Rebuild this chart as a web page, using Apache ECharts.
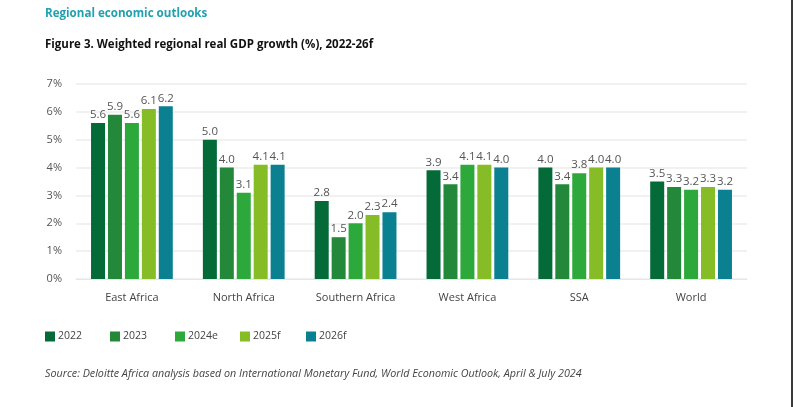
<!DOCTYPE html>
<html>
<head>
<meta charset="utf-8">
<script src="https://cdn.jsdelivr.net/npm/echarts@6/dist/echarts.min.js"></script>
<style>
html,body{margin:0;padding:0;background:#fff;}
#c{width:793px;height:407px;}
</style>
</head>
<body>
<div id="c"></div>
<script>
const categories = ['East Africa', 'North Africa', 'Southern Africa', 'West Africa', 'SSA', 'World'];
const seriesNames = ['2022', '2023', '2024e', '2025f', '2026f'];
const v2022 = [5.6, 5.0, 2.8, 3.9, 4.0, 3.5];
const v2023 = [5.9, 4.0, 1.5, 3.4, 3.4, 3.3];
const v2024e = [5.6, 3.1, 2.0, 4.1, 3.8, 3.2];
const v2025f = [6.1, 4.1, 2.3, 4.1, 4.0, 3.3];
const v2026f = [6.2, 4.1, 2.4, 4.0, 4.0, 3.2];
const yTicks = [0, 1, 2, 3, 4, 5, 6, 7];
const colors = ['#046A38', '#23883A', '#2DA83A', '#86BC25', '#0A8090'];

const allValues = [v2022, v2023, v2024e, v2025f, v2026f];
const font = '"Open Sans", "Noto Sans", sans-serif';
const legendLeft = [45, 110, 175, 240, 306];

const chart = echarts.init(document.getElementById('c'), null, {renderer: 'canvas'});
chart.setOption({
  animation: false,
  color: colors,
  title: [
    {text: 'Regional economic outlooks', left: 45, top: 8, padding: 0,
     textStyle: {fontFamily: font, fontSize: 11.6, fontWeight: 'bold', color: '#22A0B0'}},
    {text: 'Figure 3. Weighted regional real GDP growth (%), 2022-26f', left: 45, top: 39, padding: 0,
     textStyle: {fontFamily: font, fontSize: 11.5, fontWeight: 'bold', color: '#111'}}
  ],
  legend: seriesNames.map((n, i) => ({
    left: legendLeft[i], top: 331, padding: 0, itemWidth: 10, itemHeight: 10,
    icon: 'rect', data: [n],
    textStyle: {fontFamily: font, fontSize: 10.5, color: '#444', padding: [0, 0, 0, -2]}
  })),
  grid: {left: 76, right: 46, top: 84, bottom: 128, containLabel: false},
  xAxis: {
    type: 'category', data: categories,
    axisLine: {show: true, lineStyle: {color: '#e6e6e6', width: 1}},
    axisTick: {show: false},
    axisLabel: {fontFamily: font, fontSize: 11, color: '#444', margin: 13}
  },
  yAxis: {
    type: 'value', min: yTicks[0], max: yTicks[yTicks.length - 1], interval: 1,
    axisLine: {show: false}, axisTick: {show: false},
    splitLine: {lineStyle: {color: '#ececec', width: 1.5}},
    axisLabel: {fontFamily: font, fontSize: 11, color: '#555', margin: 14,
      formatter: v => v + '%'}
  },
  graphic: [{type: 'rect', shape: {x: 791, y: 0, width: 2, height: 407}, style: {fill: '#3a3a3a'}}],
  series: seriesNames.map((n, i) => ({
    name: n, type: 'bar', data: allValues[i],
    barWidth: 14, barGap: '21%', barCategoryGap: '27%',
    label: {show: true, position: 'top', distance: 2, fontFamily: font, fontSize: 11.5, color: '#555',
      formatter: p => p.value.toFixed(1)}
  }))
});
</script>
<div style="position:absolute;left:45px;top:366px;font-family:'Open Sans','Noto Sans',sans-serif;font-size:10.75px;font-style:italic;color:#444;">Source: Deloitte Africa analysis based on International Monetary Fund, World Economic Outlook, April &amp; July 2024</div>
</body>
</html>
